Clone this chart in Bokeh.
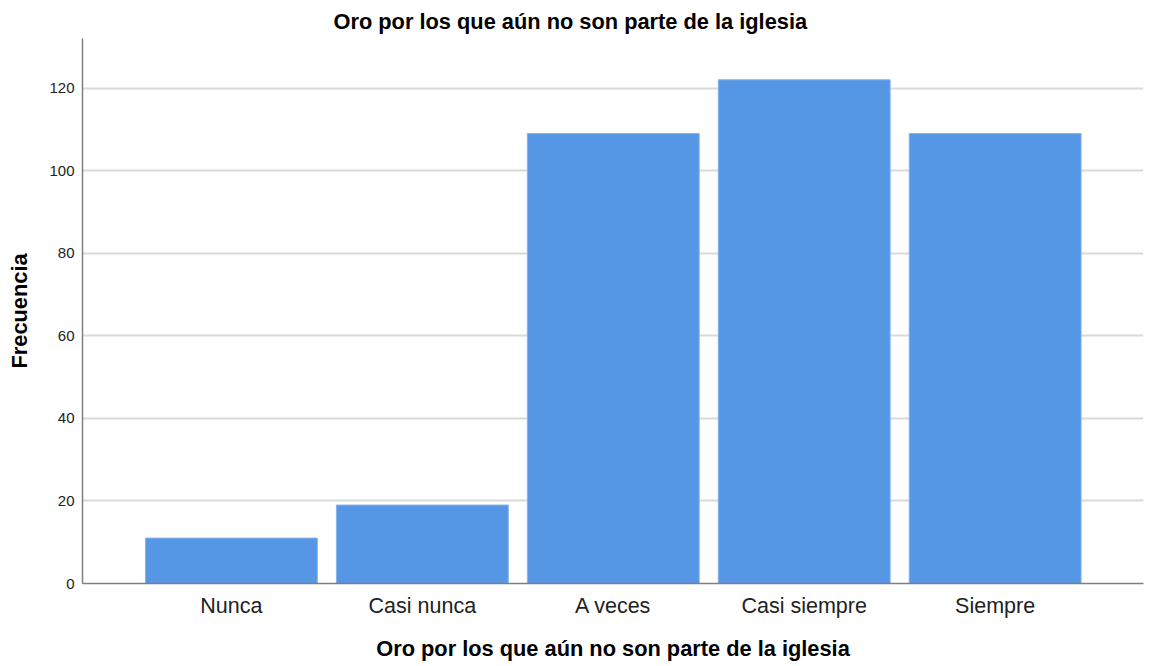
from bokeh.plotting import figure
from bokeh.models import Range1d, FixedTicker, Title
from bokeh.embed import file_html
from bokeh.resources import INLINE

categories = ["Nunca", "Casi nunca", "A veces", "Casi siempre", "Siempre"]
counts = [11, 19, 109, 122, 109]
positions = [1, 2, 3, 4, 5]
y_ticks = [0, 20, 40, 60, 80, 100, 120]

title_text = "Oro por los que aún no son parte de la iglesia"

p = figure(width=1149, height=666, output_backend="svg", toolbar_location=None,
           x_range=Range1d(0.22, 5.777), y_range=Range1d(0, 132),
           min_border_left=82, min_border_right=6, min_border_top=38, min_border_bottom=83)

p.vbar(x=positions, top=counts, width=0.9, fill_color="#5596e5",
       line_color="#86b2ea", line_width=1)

p.title = Title(text=title_text, align="left", text_font="Liberation Sans",
                text_font_size="21.8px", text_font_style="bold", text_color="#000000",
                offset=251, standoff=10)

p.outline_line_color = None
p.background_fill_color = "white"
p.border_fill_color = "white"

p.xgrid.grid_line_color = None
p.ygrid.grid_line_color = "#d9d9d9"
p.ygrid.grid_line_width = 2
p.ygrid.ticker = FixedTicker(ticks=y_ticks)

p.xaxis.ticker = FixedTicker(ticks=positions)
p.xaxis.major_label_overrides = {pos: c for pos, c in zip(positions, categories)}
p.yaxis.ticker = FixedTicker(ticks=y_ticks)

for ax in (p.xaxis[0], p.yaxis[0]):
    ax.axis_line_color = "#7f7f7f"
    ax.axis_line_width = 1.5
    ax.major_tick_line_color = None
    ax.minor_tick_line_color = None
    ax.major_label_text_font = "Liberation Sans"
    ax.major_label_text_color = "#222222"
    ax.axis_label_text_font = "Liberation Sans"
    ax.axis_label_text_font_style = "bold"
    ax.axis_label_text_font_size = "21.8px"
    ax.axis_label_text_color = "#000000"

p.xaxis.axis_label = title_text
p.xaxis.major_label_text_font_size = "21.5px"
p.xaxis.major_label_standoff = 4
p.xaxis.axis_label_standoff = 15

p.yaxis.axis_label = "Frecuencia"
p.yaxis.major_label_text_font_size = "15px"
p.yaxis.major_label_standoff = 2
p.yaxis.axis_label_standoff = 14

open("out.html", "w").write(file_html(p, INLINE))
